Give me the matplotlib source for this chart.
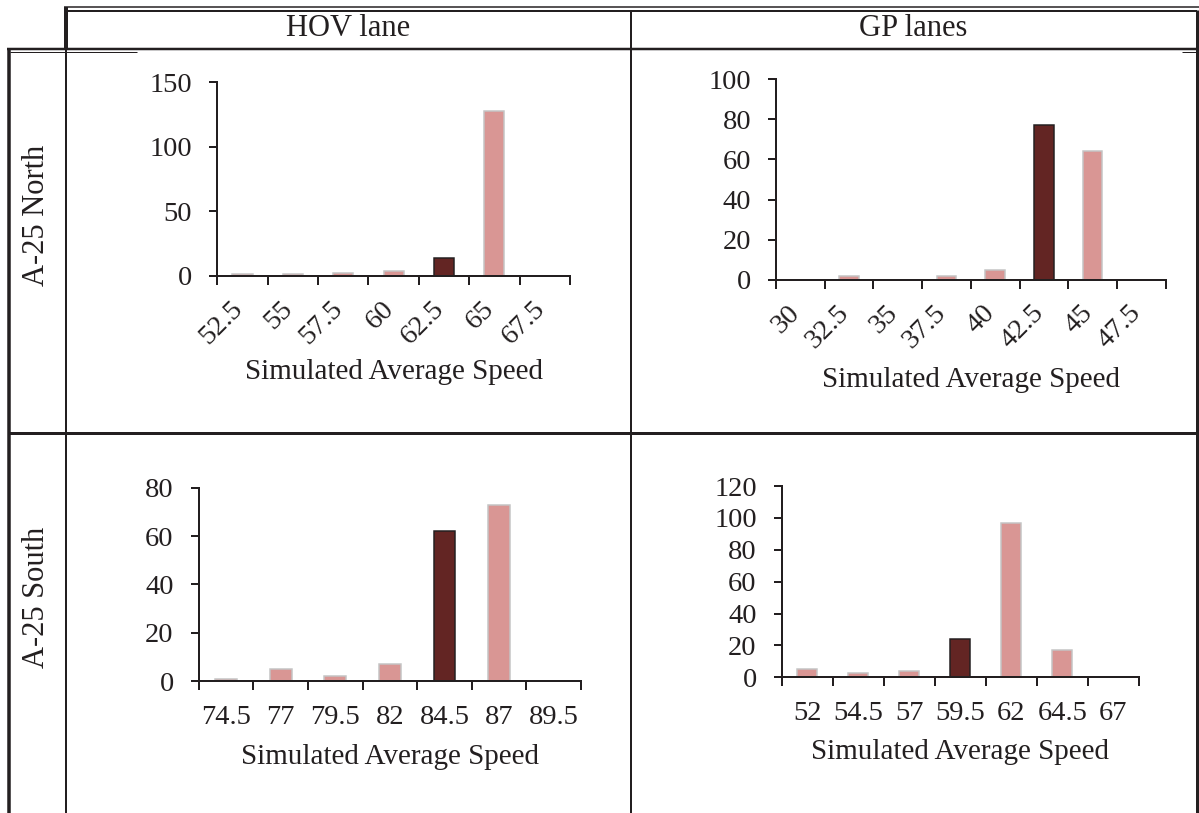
import numpy as np
import matplotlib
matplotlib.use("Agg")
import matplotlib.pyplot as plt
import matplotlib.transforms as mtransforms

# Histogram data (bin label, count); the dark bar marks the observed speed bin
hov_north_bins = ["52.5", "55", "57.5", "60", "62.5", "65", "67.5"]
hov_north_counts = [1, 1, 2, 4, 14, 128, 0]
hov_north_mark = 4

gp_north_bins = ["30", "32.5", "35", "37.5", "40", "42.5", "45", "47.5"]
gp_north_counts = [0, 2, 0, 2, 5, 77, 64, 0]
gp_north_mark = 5

hov_south_bins = ["74.5", "77", "79.5", "82", "84.5", "87", "89.5"]
hov_south_counts = [1, 5, 2, 7, 62, 73, 0]
hov_south_mark = 4

gp_south_bins = ["52", "54.5", "57", "59.5", "62", "64.5", "67"]
gp_south_counts = [5, 3, 4, 24, 97, 17, 0]
gp_south_mark = 3

col_titles = ["HOV lane", "GP lanes"]
row_titles = ["A-25 North", "A-25 South"]
xlab = "Simulated Average Speed"

# Style
W, H = 1199, 813
INK = "#231f20"
PINK = "#d99694"
DARK = "#632523"
EDGE = "#c4c4c4"
plt.rcParams["font.family"] = ["Liberation Serif", "DejaVu Serif"]
plt.rcParams["text.color"] = INK

fig = plt.figure(figsize=(W / 100, H / 100), dpi=100)
fig.patch.set_facecolor("white")

PX = 0.72  # points per pixel


def add_px_axes(x0, x1, y0, y1):
    return fig.add_axes([x0 / W, 1 - y1 / H, (x1 - x0) / W, (y1 - y0) / H])


# table grid drawn on a background axes in pixel coordinates
bg = fig.add_axes([0, 0, 1, 1])
bg.set_xlim(0, W)
bg.set_ylim(H, 0)
bg.axis("off")


def hline(y, x0, x1, w):
    bg.plot([x0, x1], [y, y], color=INK, lw=w * PX, solid_capstyle="butt")


def vline(x, y0, y1, w):
    bg.plot([x, x], [y0, y1], color=INK, lw=w * PX, solid_capstyle="butt")


hline(7, 64, 1199, 1.5)
hline(11.5, 64, 1197, 2)
vline(66, 7, 50, 4)
vline(66, 50, 813, 2)
hline(49, 7, 1199, 2.5)
hline(52.5, 10, 137, 1)
hline(52.5, 1182, 1196, 1)
vline(9, 48, 813, 3.5)
hline(432.5, 8, 1199, 3)
vline(631, 10, 813, 2)
vline(1196.5, 10, 813, 3)

# header and row labels
bg.text(348, 29, col_titles[0], ha="center", va="center", fontsize=22)
bg.text(913, 29, col_titles[1], ha="center", va="center", fontsize=22)
bg.text(37, 215, row_titles[0], ha="center", va="center", rotation=90, fontsize=22)
bg.text(37, 597, row_titles[1], ha="center", va="center", rotation=90, fontsize=22)

shift = mtransforms.ScaledTranslation(5 / 100, 0, fig.dpi_scale_trans)


def hist_panel(box, bins, counts, mark, ymax, ystep, rotate, label_y):
    ax = add_px_axes(*box)
    n = len(bins)
    x = np.arange(n) + 0.5
    colors = [DARK if i == mark else PINK for i in range(n)]
    edges = [INK if i == mark else EDGE for i in range(n)]
    ax.bar(x, counts, width=0.4, color=colors, edgecolor=edges, linewidth=1.5 * PX, zorder=1)
    ax.set_xlim(0, n)
    ax.set_ylim(0, ymax)
    ax.set_yticks(np.arange(0, ymax + 1, ystep))
    ax.set_xticks(np.arange(n + 1))
    ax.set_xticklabels([])
    ax.set_xticks(x, minor=True)
    ax.set_xticklabels(bins, minor=True)
    for s in ["top", "right"]:
        ax.spines[s].set_visible(False)
    for s in ["left", "bottom"]:
        ax.spines[s].set_color(INK)
        ax.spines[s].set_linewidth(2 * PX)
        ax.spines[s].set_zorder(3)
    ax.tick_params(axis="y", direction="out", length=6, width=2 * PX, color=INK,
                   labelsize=20.5, pad=12, labelcolor=INK)
    ax.tick_params(axis="x", which="major", direction="out", length=6.5, width=2 * PX, color=INK)
    if rotate:
        ax.tick_params(axis="x", which="minor", length=0, labelsize=20.5, pad=15, labelcolor=INK)
        for t in ax.get_xticklabels(minor=True):
            t.set_rotation(45)
            t.set_ha("right")
            t.set_transform(t.get_transform() + shift)
    else:
        ax.tick_params(axis="x", which="minor", length=0, labelsize=20.5, pad=17, labelcolor=INK)
    ax.set_facecolor("none")
    cx = (box[0] + box[1]) / 2
    bg.text(cx, label_y, xlab, ha="center", va="center", fontsize=21)
    return ax


hist_panel((217.3, 570, 82.3, 275.7), hov_north_bins, hov_north_counts, hov_north_mark, 150, 50, True, 372)
hist_panel((776, 1165.6, 79.3, 279.7), gp_north_bins, gp_north_counts, gp_north_mark, 100, 20, True, 380)
hist_panel((198.7, 581, 487.7, 681), hov_south_bins, hov_south_counts, hov_south_mark, 80, 20, False, 757)
hist_panel((781.7, 1138.7, 486, 677.3), gp_south_bins, gp_south_counts, gp_south_mark, 120, 20, False, 752)

fig.savefig("out.png", dpi=100)
